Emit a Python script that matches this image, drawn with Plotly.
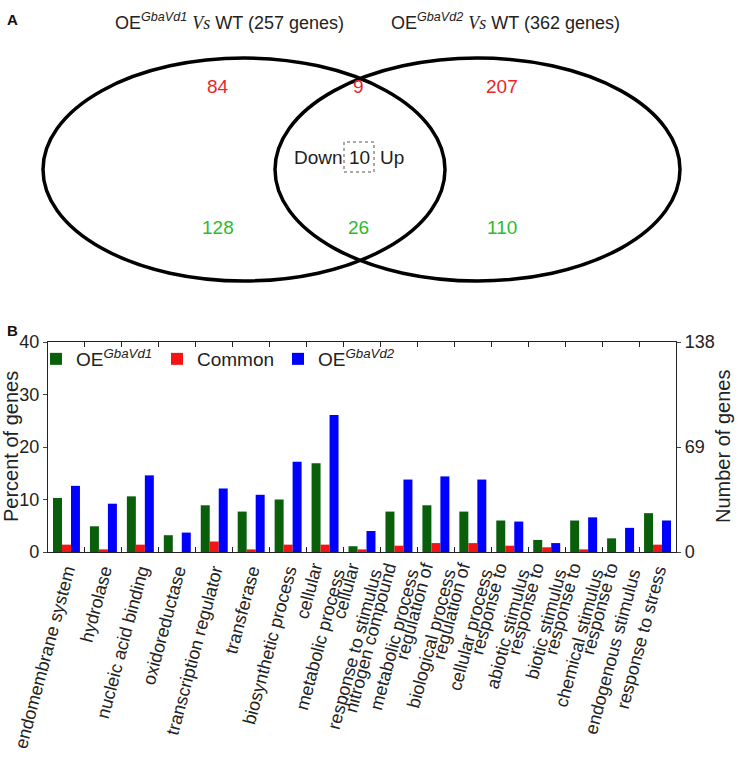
import plotly.graph_objects as go

W, H = 738, 760

# ---- data -------------------------------------------------------------
categories = [
    "endomembrane system",
    "hydrolase",
    "nucleic acid binding",
    "oxidoreductase",
    "transcription regulator",
    "transferase",
    "biosynthetic process",
    "cellular<br>metabolic process",
    "cellular<br>response to stimulus",
    "nitrogen compound<br>metabolic process",
    "regulation of<br>biological process",
    "regulation of<br>cellular process",
    "response to<br>abiotic stimulus",
    "response to<br>biotic stimulus",
    "response to<br>chemical stimulus",
    "response to<br>endogenous stimulus",
    "response to stress",
]
oe1_pct = [10.3, 4.9, 10.6, 3.2, 8.9, 7.7, 10.0, 16.9, 1.1, 7.7, 8.9, 7.7, 6.0, 2.3, 6.0, 2.6, 7.4]
common_pct = [1.4, 0.5, 1.4, 0.0, 2.0, 0.5, 1.4, 1.4, 0.5, 1.2, 1.7, 1.7, 1.2, 0.9, 0.5, 0.0, 1.4]
oe2_pct = [12.6, 9.2, 14.6, 3.7, 12.1, 10.9, 17.2, 26.1, 4.0, 13.8, 14.4, 13.8, 5.8, 1.7, 6.6, 4.6, 6.0]

pct_ticks = [0, 10, 20, 30, 40]
count_ticks = [0, 69, 138]

venn_sets = ["GbaVd1", "GbaVd2"]
venn_totals = [257, 362]
venn_up = [84, 9, 207]       # only set 1, shared, only set 2
venn_down = [128, 26, 110]
venn_shared_opposite = 10

GREEN = "#0a5f0a"
RED = "#f51414"
BLUE = "#0000ff"
TXT_RED = "#e8262b"
TXT_GREEN = "#2dbb2d"
INK = "#222"
FONT = "Liberation Sans, Arial, sans-serif"


def px(x):
    return x / W


def py(y):
    return 1 - y / H


def note(fig, x, y, text, size=19, color=INK, **kw):
    fig.add_annotation(
        x=px(x), y=py(y), xref="paper", yref="paper", showarrow=False,
        xanchor="center", yanchor="middle", text=text,
        font=dict(size=size, color=color), **kw,
    )


fig = go.Figure()
for name, vals, col in [
    ("OE<sup><i>GbaVd1</i></sup>", oe1_pct, GREEN),
    ("Common", common_pct, RED),
    ("OE<sup><i>GbaVd2</i></sup>", oe2_pct, BLUE),
]:
    fig.add_trace(go.Bar(x=categories, y=vals, name=name, marker=dict(color=col, line=dict(width=0))))

# empty series so the right-hand gene-count axis gets drawn
fig.add_trace(go.Scatter(x=categories, y=[None] * len(categories), yaxis="y2",
                         mode="lines", showlegend=False, hoverinfo="skip"))

fig.update_layout(
    width=W,
    height=H,
    margin=dict(l=0, r=0, t=0, b=0),
    paper_bgcolor="white",
    plot_bgcolor="rgba(0,0,0,0)",
    font=dict(family=FONT, size=18, color=INK),
    barmode="group",
    bargap=0.27,
    bargroupgap=0,
    showlegend=True,
    legend=dict(
        orientation="h",
        x=px(36),
        y=py(340),
        xanchor="left",
        yanchor="top",
        bgcolor="rgba(0,0,0,0)",
        font=dict(size=19),
        entrywidth=76,
        itemwidth=30,
    ),
    xaxis=dict(
        domain=[px(48), px(676)],
        type="category",
        range=[-0.5, len(categories) - 0.5],
        tickson="boundaries",
        ticks="inside",
        ticklen=5,
        tickcolor=INK,
        showline=True,
        linecolor=INK,
        linewidth=1.2,
        mirror="ticks",
        showgrid=False,
        tickangle=-75,
        tickfont=dict(size=18, color=INK),
        automargin=False,
    ),
    yaxis=dict(
        domain=[py(552), py(342)],
        range=[0, 40],
        tickvals=pct_ticks,
        ticks="outside",
        ticklen=4,
        showline=True,
        linecolor=INK,
        linewidth=1.2,
        showgrid=False,
        zeroline=False,
        tickfont=dict(size=18, color=INK),
        automargin=False,
    ),
    yaxis2=dict(
        overlaying="y",
        side="right",
        anchor="x",
        range=[0, 138],
        tickvals=count_ticks,
        ticks="outside",
        ticklen=4,
        showline=True,
        linecolor=INK,
        linewidth=1.2,
        showgrid=False,
        zeroline=False,
        tickfont=dict(size=18, color=INK),
        automargin=False,
    ),
)

note(fig, 11, 447, "Percent of genes", size=20, textangle=-90)
note(fig, 723, 447, "Number of genes", size=20, textangle=-90)

# ---- Venn diagram (panel A) ------------------------------------------
ellipses = [(43, 445), (275, 680)]
top, bottom = 58, 281
for x0, x1 in ellipses:
    fig.add_shape(
        type="circle", xref="paper", yref="paper",
        x0=px(x0), x1=px(x1), y0=py(bottom), y1=py(top),
        line=dict(color="black", width=3.5),
    )

title_x = [230, 505]
for cx, s, n in zip(title_x, venn_sets, venn_totals):
    note(fig, cx, 21,
         f"OE<sup><i>{s}</i></sup> "
         f"<span style='font-family:Liberation Serif'><i>Vs</i></span> WT ({n} genes)",
         size=18)

region_x = [218, 358, 502]
for cx, up, down in zip(region_x, venn_up, venn_down):
    note(fig, cx, 87, str(up), color=TXT_RED)
    note(fig, cx, 227, str(down), color=TXT_GREEN)

note(fig, 318, 157, "Down")
note(fig, 359, 157, str(venn_shared_opposite))
note(fig, 392, 157, "Up")
fig.add_shape(type="rect", xref="paper", yref="paper",
              x0=px(344), x1=px(374), y0=py(172), y1=py(142),
              line=dict(color="#555", width=1, dash="dot"))

note(fig, 12, 20, "<b>A</b>", size=15, color="#111")
note(fig, 12, 330, "<b>B</b>", size=15, color="#111")

fig.write_html("out.html", config={"displayModeBar": False},
               post_script="document.body.style.margin='0';")
